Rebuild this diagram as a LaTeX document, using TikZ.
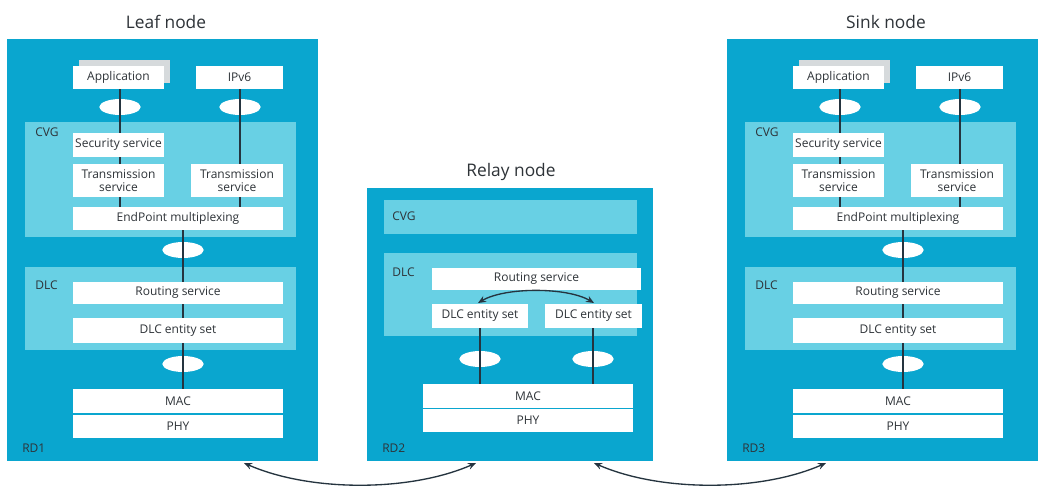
\documentclass[tikz,border=0pt]{standalone}
\usepackage{fontspec}
\setmainfont{Open Sans}
\usetikzlibrary{arrows.meta,shapes.geometric}
\definecolor{dblue}{HTML}{0AA6CF}
\definecolor{lblue}{HTML}{68D0E4}
\definecolor{shd}{HTML}{D6DADC}
\definecolor{txt}{HTML}{2E3338}
\definecolor{ln}{HTML}{25343F}
\newcommand\bx[7][wbox]{\node[#1,minimum width={(#5-#3)*0.75pt},minimum height={(#6-#4)*0.75pt}] (#2) at ({(#3+#5)/2},{(#4+#6)/2+0.8}) {#7};}
\tikzset{
 wbox/.style={fill=white,draw=none,inner sep=0pt,text=txt,font=\fontsize{9}{9.6}\selectfont,align=center},
 outer/.style={fill=dblue,draw=none,inner sep=0pt},
 band/.style={fill=lblue,draw=none,inner sep=0pt},
 shadow/.style={fill=shd,draw=none,inner sep=0pt},
 ell/.style={ellipse,fill=white,draw=none,minimum width=31pt,minimum height=12pt,inner sep=0pt},
 conn/.style={draw=ln,line width=1.4pt},
 lab/.style={text=txt,font=\fontsize{9}{9.6}\selectfont,anchor=west,inner sep=0pt},
 ttl/.style={text=txt,font=\fontsize{13}{14}\selectfont,inner sep=0pt},
 arr/.style={draw=ln,line width=1pt,{Stealth[length=6pt,width=5pt]}-{Stealth[length=6pt,width=5pt]}}
}
\newcommand\stack[3]{%
\node[ttl] (#1ttl) at (166,22) {#2};
\bx[outer]{#1box}{7}{38}{318}{460}{}
\bx[shadow]{#1shd}{79}{59}{170}{82}{}
\bx{#1app}{73}{65}{164}{88}{Application}
\bx{#1ipv}{196}{65}{283}{88}{IPv6}
\bx[band]{#1cvg}{25}{121}{296}{236}{}
\bx[band]{#1dlc}{25}{266}{296}{349}{}
\node[lab] (#1cvgl) at (35,132) {CVG};
\node[lab] (#1dlcl) at (35,285) {DLC};
\node[lab] (#1rdl) at (22,448) {#3};
\bx{#1sec}{73}{132}{164}{156}{Security service}
\bx{#1tra}{73}{163}{164}{196}{Transmission\\service}
\bx{#1trb}{191}{163}{283}{196}{Transmission\\service}
\bx{#1ep}{73}{206}{283}{229}{EndPoint multiplexing}
\bx{#1rt}{73}{281}{283}{303}{Routing service}
\bx{#1ent}{73}{317}{283}{342}{DLC entity set}
\bx{#1mac}{73}{388}{283}{412}{MAC}
\bx{#1phy}{73}{414}{283}{437}{PHY}
\node[ell] (#1e1) at (120,107) {};
\node[ell] (#1e2) at (240,107) {};
\node[ell] (#1e3) at (183,250) {};
\node[ell] (#1e4) at (183,364) {};
\draw[conn] (#1app.south -| #1e1) -- (#1sec.north -| #1e1);
\draw[conn] (#1sec.south -| #1e1) -- (#1tra.north -| #1e1);
\draw[conn] (#1tra.south -| #1e1) -- (#1ep.north -| #1e1);
\draw[conn] (#1ipv.south -| #1e2) -- (#1trb.north -| #1e2);
\draw[conn] (#1trb.south -| #1e2) -- (#1ep.north -| #1e2);
\draw[conn] (#1ep.south -| #1e3) -- (#1rt.north -| #1e3);
\draw[conn] (#1rt.south -| #1e3) -- (#1ent.north -| #1e3);
\draw[conn] (#1ent.south -| #1e4) -- (#1mac.north -| #1e4);
}
\begin{document}
\begin{tikzpicture}[x=0.75pt,y=-0.75pt]
\useasboundingbox (0,0) rectangle (1051,492);
\fill[white] (0,0) rectangle (1051,492);
\stack{L}{Leaf node}{RD1}
\begin{scope}[shift={(720,0)}]
\stack{R}{Sink node}{RD3}
\end{scope}
% relay
\node[ttl] (Mttl) at (511,172) {Relay node};
\bx[outer]{Mbox}{367}{187}{653}{460}{}
\bx[band]{Mcvg}{384}{199}{637}{233}{}
\bx[band]{Mdlc}{384}{252}{637}{335}{}
\node[lab] (Mcvgl) at (392,216) {CVG};
\node[lab] (Mdlcl) at (392,272) {DLC};
\node[lab] (Mrdl) at (382,448) {RD2};
\bx{Mrt}{432}{267}{641}{289}{Routing service}
\bx{Men1}{432}{303}{528}{327}{DLC entity set}
\bx{Men2}{545}{303}{642}{327}{DLC entity set}
\bx{Mmac}{423}{383}{633}{407}{MAC}
\bx{Mphy}{423}{408}{633}{431}{PHY}
\node[ell] (Me1) at (480,359) {};
\node[ell] (Me2) at (593,359) {};
\draw[conn] (Men1.south -| Me1) -- (Mmac.north -| Me1);
\draw[conn] (Men2.south -| Me2) -- (Mmac.north -| Me2);
\coordinate (Ma) at (478,303);
\coordinate (Mb) at (594,303);
\draw[arr] (Ma) .. controls (505,287) and (567,287) .. (Mb);
% bottom arrows
\coordinate (A1) at (244,463);
\coordinate (A2) at (476,463);
\coordinate (A3) at (594,463);
\coordinate (A4) at (826,463);
\draw[arr] (A1) .. controls (310,492) and (410,492) .. (A2);
\draw[arr] (A3) .. controls (660,492) and (760,492) .. (A4);
\end{tikzpicture}
\end{document}
